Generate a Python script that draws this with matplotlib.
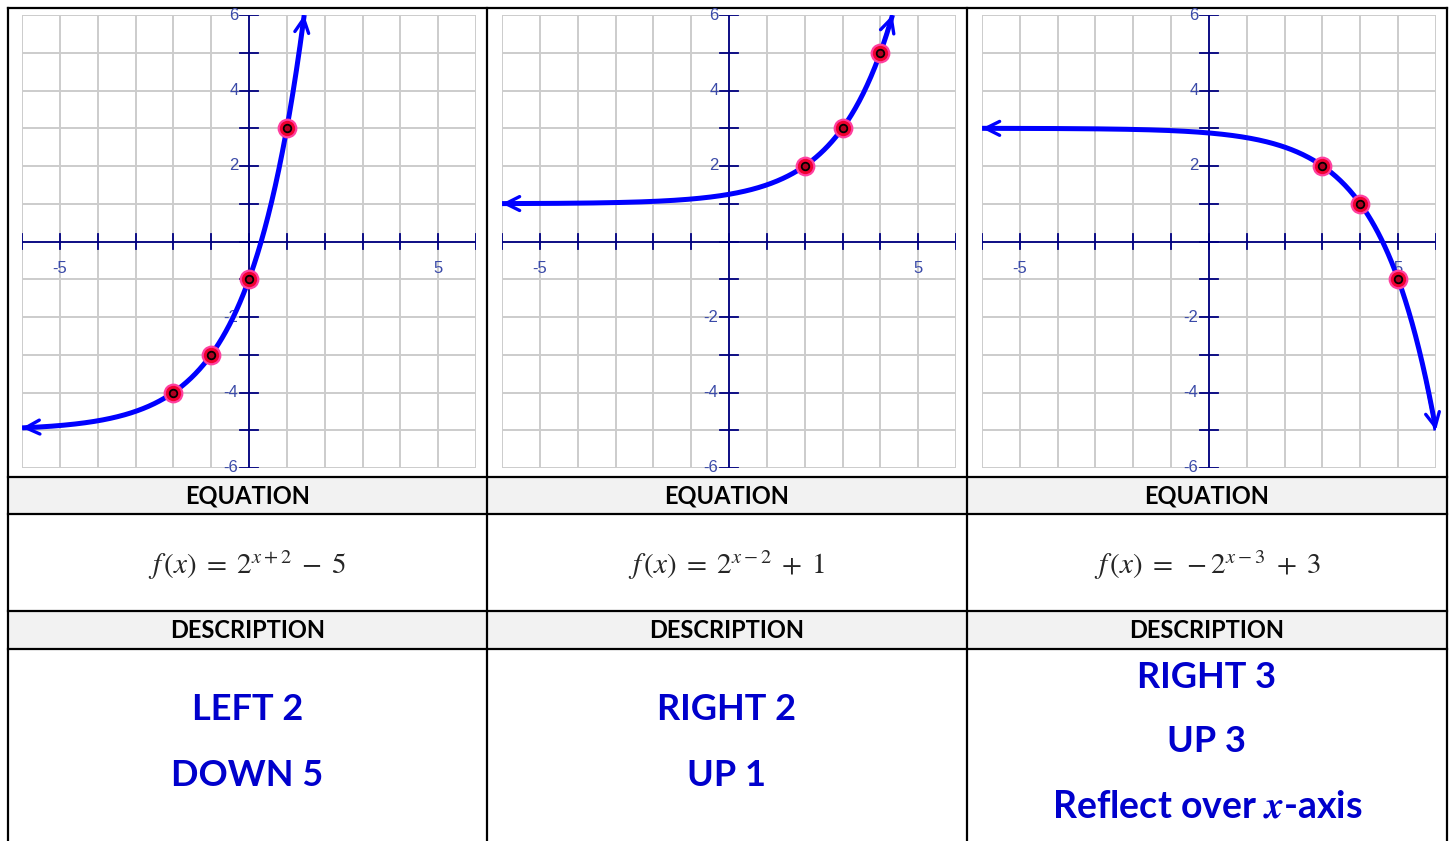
import numpy as np
import matplotlib
matplotlib.use("Agg")
import matplotlib.pyplot as plt
from matplotlib.patches import Rectangle

plt.rcParams['mathtext.fontset'] = 'stix'

# Transformations for each panel: y = sign * 2^(x - h) + k
h_shift = [-2, 2, 3]
v_shift = [-5, 1, 3]
sign = [1, 1, -1]

# Marked points on each curve
point_x = [[-2, -1, 0, 1], [2, 3, 4], [3, 4, 5]]
point_y = [[-4, -3, -1, 3], [2, 3, 5], [2, 1, -1]]

equations = [r'$f\,(x)\;=\;2^{x+2}\;-\;5$',
             r'$f\,(x)\;=\;2^{x-2}\;+\;1$',
             r'$f\,(x)\;=\;-2^{x-3}\;+\;3$']
descriptions = [["LEFT 2", "DOWN 5"],
                ["RIGHT 2", "UP 1"],
                ["RIGHT 3", "UP 3", r"Reflect over $\boldsymbol{x}$-axis"]]

y_tick_labels = [6, 4, 2, -2, -4, -6]
x_tick_labels = [-5, 5]

W, H = 1450, 841
fig = plt.figure(figsize=(W / 100, H / 100), dpi=100)

# table background in pixel coords
bg = fig.add_axes([0, 0, 1, 1])
bg.set_xlim(0, W)
bg.set_ylim(H, 0)
bg.axis('off')

col_x = [8, 487, 967, 1447]
row_y = [8, 477, 514, 611, 649]
for y0, y1 in [(477, 514), (611, 649)]:
    bg.add_patch(Rectangle((8, y0), 1439, y1 - y0, color='#f2f2f2', lw=0))
for y in row_y:
    bg.plot([8, 1447], [y, y], color='black', lw=1.6, solid_capstyle='projecting')
for x in col_x:
    bg.plot([x, x], [8, H], color='black', lw=1.6)

centers = [(col_x[i] + col_x[i + 1]) / 2 for i in range(3)]
desc_rows = {2: [709, 775], 3: [677, 742, 807]}

for i in range(3):
    cx = centers[i]
    bg.text(cx, 496, "EQUATION", ha='center', va='center', fontsize=17,
            fontweight='bold', family='Lato', color='black')
    bg.text(cx, 631, "DESCRIPTION", ha='center', va='center', fontsize=17,
            fontweight='bold', family='Lato', color='black')
    bg.text(cx, 565, equations[i], ha='center', va='center', fontsize=21,
            color='#262626')
    ys = desc_rows[len(descriptions[i])]
    for line, y in zip(descriptions[i], ys):
        size = 27 if 'Reflect' in line else 26
        bg.text(cx, y, line, ha='center', va='center', fontsize=size,
                fontweight='bold', family='Lato', color='#0000cc')

# graph panels
panel_left = [22, 502, 982]
for i in range(3):
    ax = fig.add_axes([panel_left[i] / W, 1 - 468 / H, 454 / W, 453 / H])
    ax.set_xlim(-6, 6)
    ax.set_ylim(-6, 6)
    ax.axis('off')
    for v in range(-6, 7):
        ax.plot([v, v], [-6, 6], color='#cccccc', lw=1.4, zorder=1)
        ax.plot([-6, 6], [v, v], color='#cccccc', lw=1.4, zorder=1)
    ax.plot([-6, 6], [0, 0], color='#000080', lw=1.3, zorder=2)
    ax.plot([0, 0], [-6, 6], color='#000080', lw=1.3, zorder=2)
    for v in range(-6, 7):
        ax.plot([v, v], [-0.19, 0.19], color='#000080', lw=1.3, zorder=2)
        ax.plot([-0.24, 0.24], [v, v], color='#000080', lw=1.3, zorder=2)
    for v in y_tick_labels:
        ax.text(-0.28, v, str(v), ha='right', va='center', fontsize=12,
                family='Liberation Sans', color='#3a4aa8', clip_on=False)
    for v in x_tick_labels:
        ax.text(v, -0.72, str(v), ha='center', va='center', fontsize=12,
                family='Liberation Sans', color='#3a4aa8')

    h, k, s = h_shift[i], v_shift[i], sign[i]
    # x where the curve leaves the grid (y = 6 or y = -6)
    edge = 6 if s > 0 else -6
    x_end = min(6, h + np.log2(abs(edge - k)))
    xs = np.linspace(-6, x_end, 400)
    ys = s * 2.0 ** (xs - h) + k
    ax.plot(xs, ys, color='#0000ff', lw=3.6, zorder=3, solid_capstyle='butt')
    arrow = dict(arrowstyle='->,head_length=1.0,head_width=0.5', color='#0000ff',
                 lw=2.4, shrinkA=0, shrinkB=0)
    ax.annotate('', xy=(xs[-1], ys[-1]), xytext=(xs[-12], ys[-12]),
                arrowprops=arrow, zorder=4, annotation_clip=False)
    ax.annotate('', xy=(xs[0], ys[0]), xytext=(xs[12], ys[12]),
                arrowprops=arrow, zorder=4, annotation_clip=False)

    ax.scatter(point_x[i], point_y[i], s=160, facecolor='#f00030',
               edgecolor='#ff40a0', lw=1.6, zorder=5)
    ax.scatter(point_x[i], point_y[i], s=30, facecolor='#b00020',
               edgecolor='black', lw=1.3, zorder=6)

fig.savefig("out.png", dpi=100)
